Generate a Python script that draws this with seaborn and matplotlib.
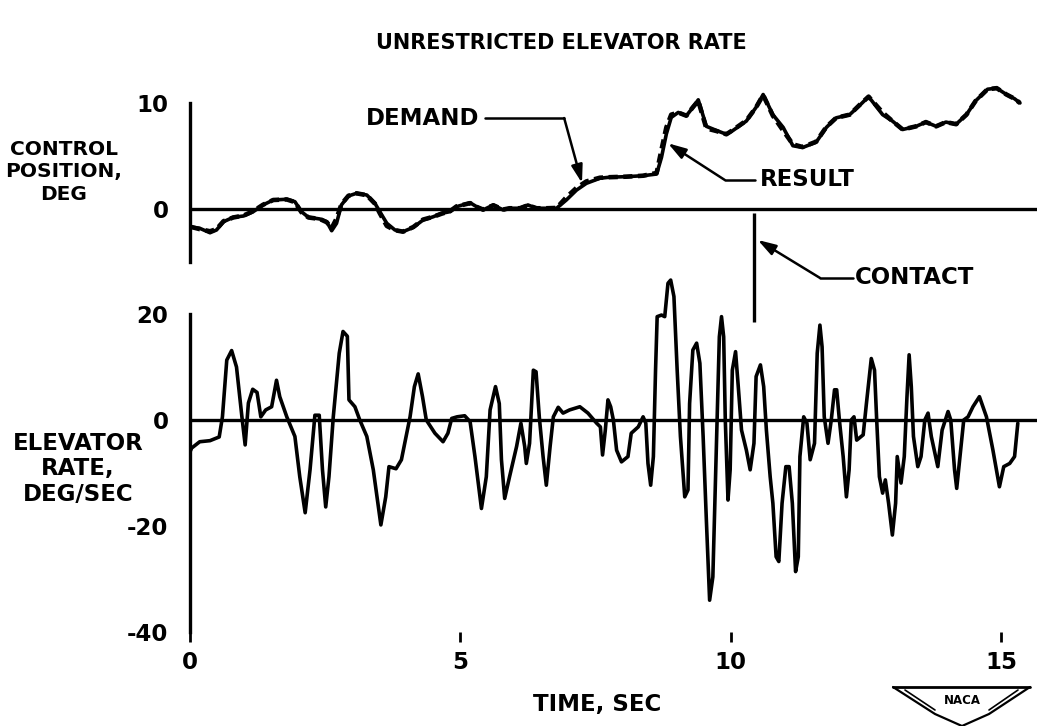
import numpy as np
import pandas as pd
import matplotlib
matplotlib.use("Agg")
import matplotlib.pyplot as plt
from matplotlib.lines import Line2D
import seaborn as sns

# ---------------- data ----------------
title = "UNRESTRICTED ELEVATOR RATE"
xlabel = "TIME, SEC"
ylabel_top = "CONTROL\nPOSITION,\nDEG"
ylabel_bot = "ELEVATOR\nRATE,\nDEG/SEC"
x_ticks = [0, 5, 10, 15]
x_ticklabels = ["0", "5", "10", "15"]
top_ticks = [0, 10]
bot_ticks = [-40, -20, 0, 20]

t_pos = [0.02, 0.05, 0.18, 0.37, 0.49, 0.62, 0.80, 0.99, 1.17, 1.35, 1.54, 1.79, 1.94, 2.06,
         2.19, 2.40, 2.53, 2.62, 2.71, 2.80, 2.93, 3.08, 3.27, 3.42, 3.51, 3.64, 3.79, 3.94,
         4.13, 4.31, 4.50, 4.65, 4.81, 4.93, 5.18, 5.30, 5.42, 5.61, 5.79, 5.91, 6.10, 6.25,
         6.41, 6.59, 6.78, 6.96, 7.15, 7.33, 7.58, 7.76, 8.07, 8.38, 8.63, 8.72, 8.81, 8.90,
         9.03, 9.18, 9.30, 9.40, 9.55, 9.74, 9.92, 10.04, 10.29, 10.47, 10.60, 10.78, 10.97,
         11.15, 11.33, 11.58, 11.77, 11.95, 12.20, 12.38, 12.55, 12.81, 12.99, 13.18, 13.43,
         13.61, 13.80, 13.98, 14.17, 14.36, 14.53, 14.75, 14.92, 15.10, 15.25, 15.35]
result = [-1.70, -1.73, -1.82, -2.24, -1.98, -1.20, -0.78, -0.66, -0.25, 0.38, 0.85, 0.92, 0.69,
          -0.25, -0.78, -0.94, -1.20, -2.05, -1.35, 0.38, 1.23, 1.48, 1.32, 0.54, -0.25, -1.35,
          -1.98, -2.14, -1.73, -1.04, -0.73, -0.41, -0.25, 0.22, 0.59, 0.22, -0.09, 0.38, -0.09,
          0.07, 0.07, 0.38, 0.07, 0.07, 0.07, 0.85, 1.79, 2.42, 2.90, 3.00, 3.05, 3.14, 3.30,
          4.87, 7.08, 8.64, 9.11, 8.80, 9.58, 10.30, 7.80, 7.40, 7.05, 7.40, 8.30, 9.60, 10.80,
          8.90, 7.70, 5.97, 5.80, 6.30, 7.70, 8.60, 8.90, 9.75, 10.60, 8.90, 8.30, 7.50, 7.80,
          8.20, 7.80, 8.20, 8.00, 8.90, 10.20, 11.30, 11.40, 10.80, 10.40, 10.00]
demand = [-1.70, -1.73, -1.90, -2.10, -1.90, -1.15, -0.80, -0.62, -0.20, 0.40, 0.85, 0.90, 0.65,
          -0.30, -0.80, -0.94, -1.25, -1.80, -0.90, 0.45, 1.25, 1.48, 1.30, 0.50, -0.40, -1.60,
          -2.00, -2.14, -1.70, -1.00, -0.73, -0.45, -0.20, 0.25, 0.55, 0.20, -0.05, 0.35, -0.05,
          0.07, 0.07, 0.35, 0.07, 0.07, 0.10, 1.10, 2.00, 2.60, 2.95, 3.00, 3.05, 3.14, 3.40,
          5.60, 7.70, 8.90, 9.10, 8.80, 9.60, 10.20, 7.60, 7.35, 7.05, 7.45, 8.35, 9.60, 10.75,
          8.80, 7.40, 6.10, 5.85, 6.35, 7.75, 8.60, 8.90, 9.80, 10.60, 9.10, 8.30, 7.50, 7.80,
          8.20, 7.80, 8.20, 8.00, 8.90, 10.20, 11.30, 11.40, 10.80, 10.40, 10.00]

t_rate = [0.00, 0.03, 0.18, 0.37, 0.54, 0.60, 0.68, 0.77, 0.86, 0.96, 1.02, 1.08, 1.16, 1.24,
          1.31, 1.40, 1.51, 1.60, 1.66, 1.79, 1.94, 2.03, 2.13, 2.22, 2.31, 2.39, 2.45, 2.51,
          2.57, 2.65, 2.76, 2.83, 2.91, 2.94, 3.05, 3.14, 3.27, 3.39, 3.53, 3.62, 3.68, 3.81,
          3.91, 4.07, 4.15, 4.22, 4.30, 4.37, 4.53, 4.68, 4.77, 4.84, 4.94, 5.08, 5.18, 5.27,
          5.39, 5.48, 5.55, 5.65, 5.72, 5.76, 5.82, 5.91, 6.04, 6.12, 6.19, 6.22, 6.28, 6.35,
          6.40, 6.46, 6.53, 6.59, 6.66, 6.72, 6.81, 6.90, 7.02, 7.21, 7.36, 7.52, 7.59, 7.63,
          7.68, 7.73, 7.78, 7.83, 7.89, 7.98, 8.10, 8.16, 8.29, 8.38, 8.43, 8.47, 8.52, 8.57,
          8.61, 8.64, 8.72, 8.78, 8.84, 8.89, 8.95, 9.01, 9.07, 9.15, 9.21, 9.24, 9.30, 9.37,
          9.43, 9.49, 9.55, 9.61, 9.67, 9.74, 9.79, 9.83, 9.87, 9.90, 9.95, 9.99, 10.03, 10.09,
          10.14, 10.20, 10.29, 10.36, 10.43, 10.47, 10.55, 10.61, 10.66, 10.73, 10.78, 10.84,
          10.89, 10.95, 11.02, 11.08, 11.14, 11.20, 11.25, 11.28, 11.35, 11.41, 11.47, 11.55,
          11.60, 11.65, 11.69, 11.73, 11.80, 11.86, 11.92, 11.96, 12.01, 12.08, 12.14, 12.19,
          12.23, 12.28, 12.33, 12.45, 12.51, 12.60, 12.66, 12.70, 12.75, 12.81, 12.86, 12.92,
          12.99, 13.05, 13.08, 13.15, 13.21, 13.26, 13.30, 13.34, 13.38, 13.46, 13.52, 13.59,
          13.65, 13.71, 13.83, 13.91, 14.02, 14.07, 14.14, 14.18, 14.24, 14.31, 14.39, 14.48,
          14.60, 14.73, 14.85, 14.97, 15.05, 15.16, 15.25, 15.31]
rate = [-6.0, -5.3, -4.1, -3.9, -3.2, 0.6, 11.3, 13.1, 10.0, 0.6, -4.7, 3.2, 5.8, 5.2,
        0.6, 1.9, 2.5, 7.5, 4.4, 0.6, -3.1, -10.7, -17.5, -9.4, 0.9, 0.9, -9.4, -16.4,
        -10.7, 0.6, 12.6, 16.7, 15.8, 3.8, 2.5, 0.0, -3.1, -9.4, -19.8, -14.5, -8.8, -9.2,
        -7.5, 0.6, 6.3, 8.7, 4.4, 0.0, -2.5, -4.1, -2.5, 0.3, 0.6, 0.8, -0.3, -6.9,
        -16.7, -10.7, 1.9, 6.3, 3.1, -7.5, -14.8, -10.7, -5.0, -0.6, -5.0, -8.2, -4.4, 9.4,
        9.1, 0.6, -6.9, -12.3, -5.0, 0.6, 2.4, 1.3, 1.9, 2.5, 1.3, -0.6, -1.3, -6.6,
        -2.0, 3.8, 2.5, 0.0, -5.7, -7.9, -6.9, -2.5, -1.3, 0.6, -0.6, -8.2, -12.3, -6.9,
        9.4, 19.5, 19.8, 19.5, 25.8, 26.4, 23.3, 9.4, -3.1, -14.5, -13.2, 3.1, 13.2, 14.5,
        10.7, -3.1, -18.9, -34.0, -29.6, -3.1, 15.7, 19.5, 15.7, 0.0, -15.1, -9.4, 9.4, 12.9,
        6.3, -1.9, -5.7, -9.4, -4.4, 8.2, 10.4, 6.3, -1.9, -10.7, -15.7, -25.8,
        -26.7, -15.7, -8.8, -8.8, -15.7, -28.6, -25.8, -6.9, 0.6, -0.6, -7.5, -4.4,
        12.6, 17.9, 13.8, 0.6, -4.4, 0.0, 5.7, 5.7, 0.0, -6.9, -14.5, -9.4,
        0.0, 0.6, -3.8, -2.8, 3.1, 11.6, 9.4, 0.0, -10.7, -13.8, -11.3, -15.7,
        -21.7, -15.7, -6.9, -11.9, -6.9, 4.4, 12.3, 6.3, -3.1, -8.8, -6.9, 0.0,
        1.3, -3.1, -8.8, -1.9, 1.6, 0.0, -9.4, -12.9, -6.9, 0.0, 0.6, 2.5,
        4.4, 0.6, -5.7, -12.6, -8.8, -8.2, -6.9, -0.6]

contact_t = 10.43

# ---------------- style ----------------
sns.set_theme(style="white")
plt.rcParams['font.family'] = ['DejaVu Sans']
plt.rcParams['font.weight'] = 'bold'
plt.rcParams['text.color'] = 'black'
plt.rcParams['axes.labelcolor'] = 'black'
plt.rcParams['xtick.color'] = 'black'
plt.rcParams['ytick.color'] = 'black'
plt.rcParams['xtick.labelcolor'] = 'black'
plt.rcParams['ytick.labelcolor'] = 'black'
FS = 16.5

W, H = 1037, 726
fig = plt.figure(figsize=(W / 100, H / 100), dpi=100)

def fx(px):
    return px / W

def fy(py):
    return 1 - py / H

x_left, x_right = 190, 1037
xmax = (x_right - x_left) / 54.07

ax_top = fig.add_axes([fx(x_left), fy(267.3), fx(x_right - x_left), (267.3 - 81.8) / H])
ax_bot = fig.add_axes([fx(x_left), fy(632), fx(x_right - x_left), (632 - 271.6) / H])

df_pos = pd.DataFrame({"t": t_pos, "result": result, "demand": demand})
df_rate = pd.DataFrame({"t": t_rate, "rate": rate})

LW = 2.6
sns.lineplot(data=df_pos, x="t", y="result", ax=ax_top, color="black", lw=LW,
             sort=False, estimator=None)
sns.lineplot(data=df_pos, x="t", y="demand", ax=ax_top, color="black", lw=3.3,
             sort=False, estimator=None, linestyle=(0, (2.0, 1.2)))
sns.lineplot(data=df_rate, x="t", y="rate", ax=ax_bot, color="black", lw=LW,
             sort=False, estimator=None)
for ax in (ax_top, ax_bot):
    for ln in ax.get_lines():
        ln.set_solid_joinstyle("round")
        ln.set_solid_capstyle("round")

for ax in (ax_top, ax_bot):
    ax.set_xlim(0, xmax)
    ax.axhline(0, color="black", lw=2.4, zorder=1)
    ax.set_xlabel("")
    ax.set_ylabel("")
    ax.set_facecolor("none")
    for s in ("top", "right", "bottom"):
        ax.spines[s].set_visible(False)
    ax.spines["left"].set_color("black")
    ax.spines["left"].set_linewidth(2.4)
    ax.tick_params(axis="y", direction="out", length=8.5, width=2.2, color="black",
                   labelcolor="black", labelsize=FS, pad=7)

ax_top.set_ylim(-5.5, 12)
ax_top.spines["left"].set_bounds(-5, 10)
ax_top.set_yticks(top_ticks)
ax_top.set_yticklabels([str(v) for v in top_ticks], fontsize=FS, fontweight="bold",
                       color="black")
ax_top.set_xticks([])

ax_bot.set_ylim(-40, 28)
ax_bot.spines["left"].set_bounds(-40, 20)
ax_bot.set_yticks(bot_ticks)
ax_bot.set_yticklabels([str(v) for v in bot_ticks], fontsize=FS, fontweight="bold",
                       color="black")
ax_bot.set_xticks(x_ticks)
ax_bot.set_xticklabels(x_ticklabels, fontsize=FS, fontweight="bold", color="black")
ax_bot.tick_params(axis="x", direction="out", length=7, width=2.0, color="black",
                   labelcolor="black", labelsize=FS, pad=7, bottom=True)

# contact marker
ax_top.plot([contact_t, contact_t], [-0.38, -10.66], color="black", lw=2.4, clip_on=False,
            solid_capstyle="butt")

arrow_kw = dict(arrowstyle="-|>,head_length=0.9,head_width=0.28", color="black", lw=1.8,
                shrinkA=0, shrinkB=0)

# DEMAND
ax_top.text(5.36, 8.58, "DEMAND", ha="right", va="center", fontsize=FS, fontweight="bold",
            color="black")
ax_top.plot([5.46, 6.92], [8.58, 8.58], color="black", lw=1.8, clip_on=False)
ax_top.annotate("", xy=(7.25, 2.45), xytext=(6.92, 8.58), arrowprops=arrow_kw,
                annotation_clip=False)

# RESULT
ax_top.text(10.54, 2.74, "RESULT", ha="left", va="center", fontsize=FS, fontweight="bold",
            color="black")
ax_top.plot([10.45, 9.89], [2.74, 2.74], color="black", lw=1.8, clip_on=False)
ax_top.annotate("", xy=(8.84, 6.2), xytext=(9.89, 2.74), arrowprops=arrow_kw,
                annotation_clip=False)

# CONTACT
ax_top.text(12.30, -6.5, "CONTACT", ha="left", va="center", fontsize=FS, fontweight="bold",
            color="black")
ax_top.plot([12.26, 11.65], [-6.5, -6.5], color="black", lw=1.8, clip_on=False)
ax_top.annotate("", xy=(10.50, -2.92), xytext=(11.65, -6.5), arrowprops=arrow_kw,
                annotation_clip=False)

# labels
fig.text(fx(561), fy(43), title, ha="center", va="center", fontsize=15, fontweight="bold",
         color="black")
fig.text(fx(64), fy(172), ylabel_top, ha="center", va="center", fontsize=14.5,
         fontweight="bold", linespacing=1.25, multialignment="center", color="black")
fig.text(fx(78), fy(469), ylabel_bot, ha="center", va="center", fontsize=FS,
         fontweight="bold", linespacing=1.15, multialignment="center", color="black")
fig.text(fx(597), fy(705), xlabel, ha="center", va="center", fontsize=FS, fontweight="bold",
         color="black")

# NACA emblem
def fline(xs, ys, lw=1.6):
    fig.add_artist(Line2D([fx(v) for v in xs], [fy(v) for v in ys], color="black", lw=lw,
                          transform=fig.transFigure))

fline([893, 1030], [687, 687], lw=2.0)
fline([893, 935, 962, 989, 1030], [687, 714, 726, 714, 687])
fline([905, 935], [690, 710], lw=1.2)
fline([1018, 989], [690, 710], lw=1.2)
fig.text(fx(962), fy(701), "NACA", ha="center", va="center", fontsize=8.5, fontweight="bold",
         color="black")

fig.savefig("out.png", dpi=100)
